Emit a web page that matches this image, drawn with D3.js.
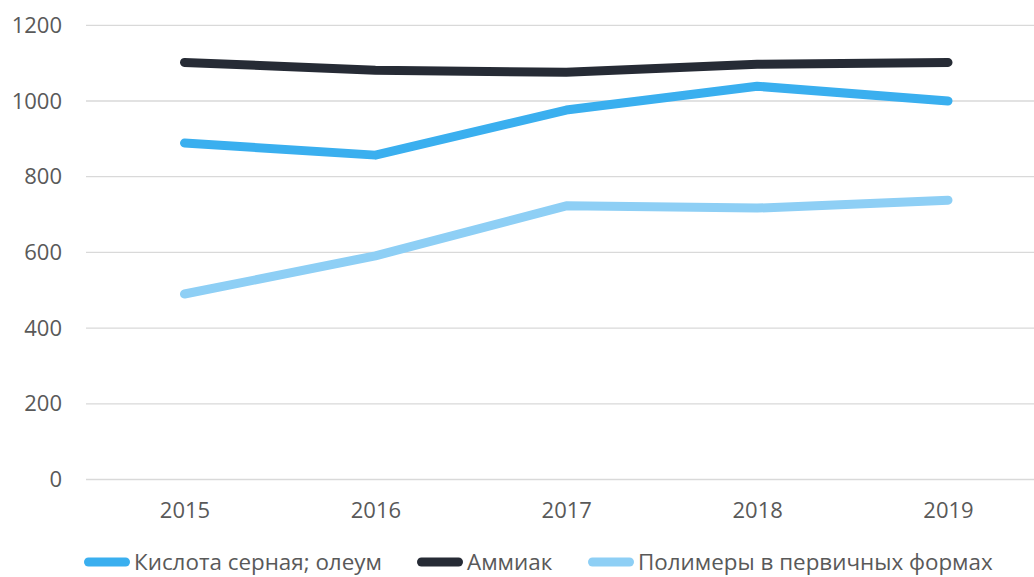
<!DOCTYPE html>
<html><head><meta charset="utf-8">
<script src="https://cdn.jsdelivr.net/npm/d3@7"></script>
<style>
body{margin:0;background:#fff;}
svg text{font-family:"Open Sans",sans-serif;fill:#595959;}
</style></head>
<body>
<svg id="chart" width="1034" height="577"></svg>
<script>
const years = ["2015","2016","2017","2018","2019"];
const sulfuric = [889, 857, 976, 1039, 1000];
const ammonia = [1102, 1081, 1076, 1097, 1102];
const polymers = [490, 591, 723, 717, 738];
const yTicks = [0,200,400,600,800,1000,1200];
const seriesNames = ["Кислота серная; олеум","Аммиак","Полимеры в первичных формах"];
const seriesColors = ["#3AAFEF","#262B35","#8ECFF5"];
const seriesData = [sulfuric, ammonia, polymers];

const svg = d3.select("#chart");
const x = d3.scalePoint().domain(years).range([184.5, 948]);
const y = d3.scaleLinear().domain([0,1200]).range([479.5, 25.3]);

// gridlines
svg.append("g").selectAll("line").data(yTicks).join("line")
  .attr("x1",86).attr("x2",1034)
  .attr("y1",d=>y(d)).attr("y2",d=>y(d))
  .attr("stroke","#D9D9D9").attr("stroke-width",1.3);

// y labels
const yAxis = d3.axisLeft(y).tickValues(yTicks).tickFormat(d3.format("d")).tickSize(0).tickPadding(0);
const gy = svg.append("g").attr("transform","translate(62,0)").call(yAxis);
gy.select(".domain").remove();
gy.selectAll("text").attr("font-size",22).style("font-family","'Open Sans',sans-serif").attr("fill","#595959");

// x labels
const xAxis = d3.axisBottom(x).tickSize(0).tickPadding(0);
const gx = svg.append("g").attr("transform","translate(0,502)").call(xAxis);
gx.select(".domain").remove();
gx.selectAll("text").attr("font-size",22).style("font-family","'Open Sans',sans-serif").attr("fill","#595959");

// lines
const line = d3.line().x((d,i)=>x(years[i])).y(d=>y(d));
svg.append("g").selectAll("path").data([1,0,2].map(i=>({v:seriesData[i],c:seriesColors[i]}))).join("path")
  .attr("d",d=>line(d.v)).attr("fill","none").attr("stroke",d=>d.c)
  .attr("stroke-width",9).attr("stroke-linecap","round").attr("stroke-linejoin","round");

// legend
const legendX = [88.5, 421.5, 592.5];
const lg = svg.append("g").selectAll("g").data(seriesNames).join("g")
  .attr("transform",(d,i)=>`translate(${legendX[i]},562)`);
lg.append("line").attr("x1",0).attr("x2",37).attr("y1",0).attr("y2",0)
  .attr("stroke",(d,i)=>seriesColors[i]).attr("stroke-width",9).attr("stroke-linecap","round");
lg.append("text").attr("x",45.5).attr("y",0).attr("dy","0.35em").attr("font-size",22.4).text(d=>d);
</script>
</body></html>
